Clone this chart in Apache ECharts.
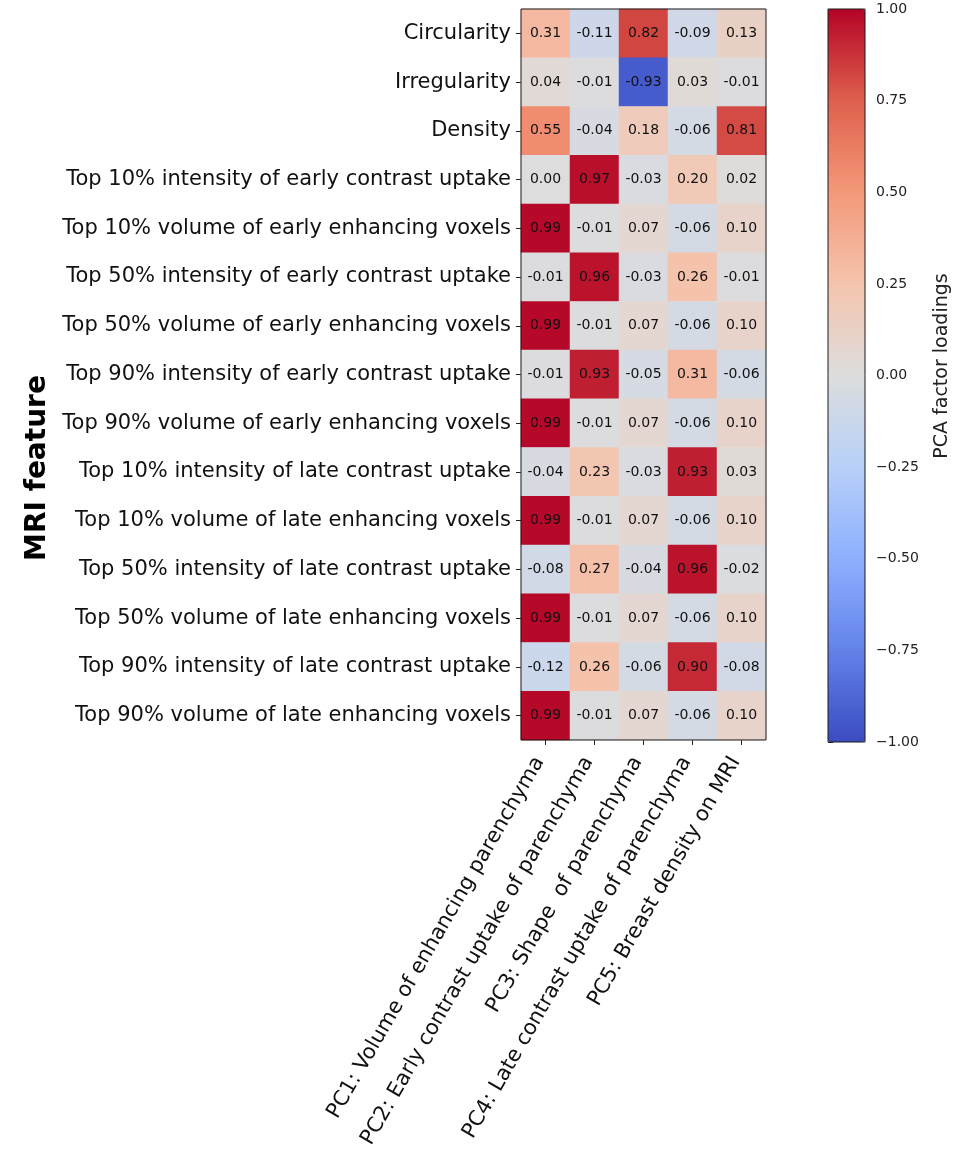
<!DOCTYPE html>
<html>
<head>
<meta charset="utf-8">
<script src="https://cdn.jsdelivr.net/npm/echarts@6/dist/echarts.min.js"></script>
<style>html,body{margin:0;padding:0;background:#fff;}#chart{width:966px;height:1151px;}</style>
</head>
<body>
<div id="chart"></div>
<script>
const features = [
  'Circularity',
  'Irregularity',
  'Density',
  'Top 10% intensity of early contrast uptake',
  'Top 10% volume of early enhancing voxels',
  'Top 50% intensity of early contrast uptake',
  'Top 50% volume of early enhancing voxels',
  'Top 90% intensity of early contrast uptake',
  'Top 90% volume of early enhancing voxels',
  'Top 10% intensity of late contrast uptake',
  'Top 10% volume of late enhancing voxels',
  'Top 50% intensity of late contrast uptake',
  'Top 50% volume of late enhancing voxels',
  'Top 90% intensity of late contrast uptake',
  'Top 90% volume of late enhancing voxels'
];
const components = [
  'PC1: Volume of enhancing parenchyma',
  'PC2: Early contrast uptake of parenchyma',
  'PC3: Shape  of parenchyma',
  'PC4: Late contrast uptake of parenchyma',
  'PC5: Breast density on MRI'
];
const pc1 = [0.31, 0.04, 0.55, 0.00, 0.99, -0.01, 0.99, -0.01, 0.99, -0.04, 0.99, -0.08, 0.99, -0.12, 0.99];
const pc2 = [-0.11, -0.01, -0.04, 0.97, -0.01, 0.96, -0.01, 0.93, -0.01, 0.23, -0.01, 0.27, -0.01, 0.26, -0.01];
const pc3 = [0.82, -0.93, 0.18, -0.03, 0.07, -0.03, 0.07, -0.05, 0.07, -0.03, 0.07, -0.04, 0.07, -0.06, 0.07];
const pc4 = [-0.09, 0.03, -0.06, 0.20, -0.06, 0.26, -0.06, 0.31, -0.06, 0.93, -0.06, 0.96, -0.06, 0.90, -0.06];
const pc5 = [0.13, -0.01, 0.81, 0.02, 0.10, -0.01, 0.10, -0.06, 0.10, 0.03, 0.10, -0.02, 0.10, -0.08, 0.10];
const colorbarMin = -1.0;
const colorbarMax = 1.0;
const colorbarStep = 0.25;

const loadings = [pc1, pc2, pc3, pc4, pc5];
const heatData = [];
loadings.forEach((col, xi) => col.forEach((v, yi) => heatData.push([xi, yi, v])));

const coolwarm = ['#3b4cc0', '#6282ea', '#8db0fe', '#b8d0f9', '#dddddd', '#f5c4ad', '#f4987a', '#de604d', '#b40426'];
const FONT = '"DejaVu Sans", sans-serif';

const chart = echarts.init(document.getElementById('chart'));
chart.setOption({
  animation: false,
  backgroundColor: '#ffffff',
  grid: [
    {left: 521, top: 9, width: 245, height: 732, show: true, borderColor: '#1a1a1a', borderWidth: 1, backgroundColor: 'transparent', z: 10, containLabel: false},
    {left: 828, top: 9, width: 37, height: 733, show: true, borderColor: '#1a1a1a', borderWidth: 1, backgroundColor: 'transparent', z: 10, containLabel: false}
  ],
  xAxis: [
    {
      type: 'category', data: components, gridIndex: 0, position: 'bottom',
      axisLine: {show: false},
      axisTick: {show: true, alignWithLabel: true, length: 5, lineStyle: {color: '#222'}},
      axisLabel: {rotate: 60, margin: 8, padding: [0, 12, 0, 0], fontSize: 21, fontFamily: FONT, color: '#111', interval: 0},
      splitLine: {show: false}, splitArea: {show: false}
    },
    {type: 'value', gridIndex: 1, show: false, min: 0, max: 1}
  ],
  yAxis: [
    {
      type: 'category', data: features, inverse: true, gridIndex: 0,
      axisLine: {show: false},
      axisTick: {show: true, alignWithLabel: true, length: 5, lineStyle: {color: '#222'}},
      axisLabel: {margin: 10, fontSize: 21, fontFamily: FONT, color: '#111', interval: 0},
      splitLine: {show: false}, splitArea: {show: false}
    },
    {
      type: 'value', gridIndex: 1, position: 'right',
      min: colorbarMin, max: colorbarMax, interval: colorbarStep,
      axisLine: {show: false},
      axisTick: {show: true, length: 5, lineStyle: {color: '#222'}},
      axisLabel: {
        margin: 11, fontSize: 14, fontFamily: FONT, color: '#222',
        formatter: v => (v < 0 ? '\u2212' : '') + Math.abs(v).toFixed(2)
      },
      splitLine: {show: false}
    }
  ],
  visualMap: {
    type: 'continuous', min: colorbarMin, max: colorbarMax, calculable: false,
    orient: 'vertical', left: 828, top: 9, itemWidth: 37, itemHeight: 733,
    padding: 0, text: null, seriesIndex: 0, hoverLink: false,
    inRange: {color: coolwarm}
  },
  series: [{
    type: 'heatmap', xAxisIndex: 0, yAxisIndex: 0, data: heatData,
    label: {
      show: true, fontSize: 14, fontFamily: FONT, color: '#111',
      formatter: p => p.value[2].toFixed(2)
    },
    itemStyle: {borderWidth: 0},
    emphasis: {disabled: true}
  }],
  graphic: [
    {type: 'text', x: 38, y: 468, rotation: Math.PI / 2,
     style: {text: 'MRI feature', font: 'bold 28px "DejaVu Sans"', fill: '#000', align: 'center', verticalAlign: 'middle'}},
    {type: 'text', x: 942, y: 366, rotation: Math.PI / 2,
     style: {text: 'PCA factor loadings', font: '19px "DejaVu Sans"', fill: '#222', align: 'center', verticalAlign: 'middle'}}
  ]
});
</script>
</body>
</html>
